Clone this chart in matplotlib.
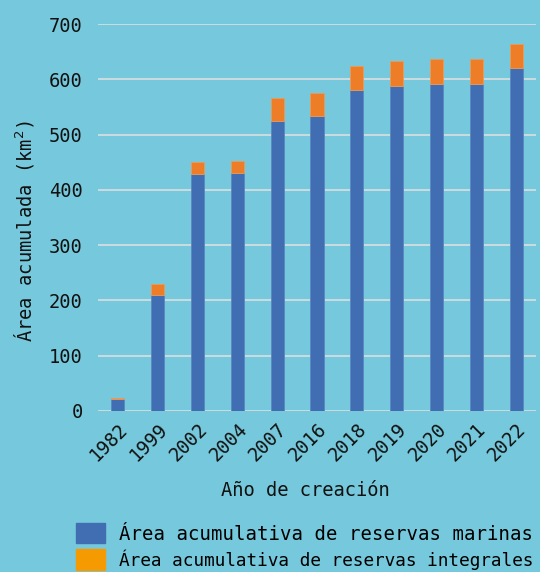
import matplotlib
matplotlib.use("Agg")
import matplotlib.pyplot as plt
from matplotlib.patches import Rectangle

years = ["1982", "1999", "2002", "2004", "2007", "2016", "2018", "2019", "2020", "2021", "2022"]
marinas = [21, 210, 429, 431, 525, 534, 581, 588, 592, 592, 620]
integrales = [2, 19, 21, 21, 42, 41, 43, 45, 45, 45, 44]

bg = "#76c9dc"
blue = "#416db3"
orange = "#ee7d27"

plt.rcParams["font.family"] = ["DejaVu Sans Mono"]
plt.rcParams["font.size"] = 13.5

fig = plt.figure(figsize=(5.4, 5.72), dpi=100, facecolor=bg)
ax = fig.add_axes([98 / 540, 1 - 411 / 572, 438 / 540, 387 / 572], facecolor=bg)

x = range(len(years))
ax.bar(x, marinas, width=0.33, color=blue, edgecolor="#5b86c0", linewidth=0.6, zorder=3)
ax.bar(x, integrales, bottom=marinas, width=0.33, color=orange, edgecolor="#e89a5a",
       linewidth=0.6, zorder=3)

ax.set_ylim(0, 700)
ax.set_xlim(-0.5, len(years) - 0.5)
ax.set_yticks(range(0, 701, 100))
ax.set_xticks(list(x))
ax.set_xticklabels(years, rotation=45, ha="right", rotation_mode="anchor")
ax.yaxis.grid(True, color="#d3dde0", linewidth=1.3, zorder=0)
ax.tick_params(length=0, labelcolor="#111111")
ax.tick_params(axis="y", pad=11)
ax.tick_params(axis="x", pad=6)
for s in ax.spines.values():
    s.set_visible(False)

ax.set_xlabel("Año de creación", labelpad=12, color="#111111", x=0.474)
ax.set_ylabel("Área acumulada (km$^2$)", labelpad=9, color="#111111", y=0.466)

handles = [Rectangle((0, 0), 1, 1, color=blue), Rectangle((0, 0), 1, 1, color="#f59a00")]
leg = fig.legend(handles, ["Área acumulativa de reservas marinas", "Área acumulativa de reservas integrales"],
                 loc="upper left", bbox_to_anchor=(76 / 540, 1 - 523 / 572), frameon=False,
                 handlelength=1.55, handleheight=1.3, handletextpad=0.72, labelspacing=0.3,
                 borderpad=0, borderaxespad=0)
leg.get_texts()[0].set_fontsize(13.7)
leg.get_texts()[1].set_fontsize(12.8)

fig.savefig("out.png", dpi=100, facecolor=bg)
